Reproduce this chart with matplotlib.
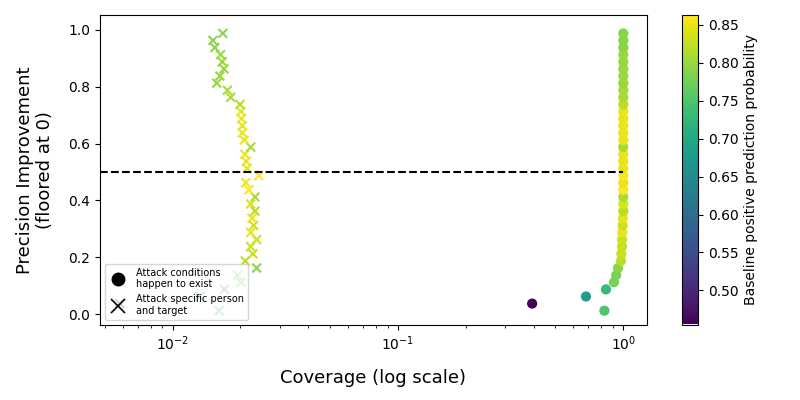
import matplotlib
matplotlib.use("Agg")
import matplotlib.pyplot as plt
from matplotlib.lines import Line2D

# precision improvement (floored at 0), bottom to top
improvement = [0.0125, 0.0375, 0.0625, 0.0875, 0.1125, 0.1375, 0.1625, 0.1875,
               0.2125, 0.2375, 0.2625, 0.2875, 0.3125, 0.3375, 0.3625, 0.3875,
               0.4125, 0.4375, 0.4625, 0.4875, 0.5125, 0.5375, 0.5625, 0.5875,
               0.6125, 0.6375, 0.6625, 0.6875, 0.7125, 0.7375, 0.7625, 0.7875,
               0.8125, 0.8375, 0.8625, 0.8875, 0.9125, 0.9375, 0.9625, 0.9875]

# baseline positive prediction probability (colour)
baseline = [0.75, 0.455, 0.68, 0.73, 0.78, 0.78, 0.79, 0.82,
            0.83, 0.83, 0.83, 0.85, 0.83, 0.85, 0.82, 0.84,
            0.81, 0.86, 0.85, 0.863, 0.85, 0.85, 0.85, 0.81,
            0.85, 0.85, 0.85, 0.85, 0.85, 0.82, 0.81, 0.81,
            0.80, 0.80, 0.80, 0.80, 0.80, 0.79, 0.79, 0.79]

# coverage when attack conditions happen to exist (circles)
coverage_exist = [0.824, 0.394, 0.683, 0.838, 0.909, 0.93, 0.947, 0.977,
                  0.98, 0.987, 0.987, 0.99, 0.993, 0.995, 1.0, 1.0,
                  1.0, 1.0, 1.0, 1.0, 1.0, 1.0, 1.0, 1.0,
                  1.0, 1.0, 1.0, 1.0, 1.0, 1.0, 1.0, 1.0,
                  1.0, 1.0, 1.0, 1.0, 1.0, 1.0, 1.0, 1.0]

# coverage when attacking a specific person and target (crosses)
coverage_specific = [0.0161, 0.00583, 0.0132, 0.0170, 0.0201, 0.0194, 0.0236, 0.0210,
                     0.0227, 0.0222, 0.0236, 0.0222, 0.0229, 0.0225, 0.0232, 0.0222,
                     0.0232, 0.0218, 0.0211, 0.0241, 0.0214, 0.0212, 0.0209, 0.0222,
                     0.0208, 0.0204, 0.0204, 0.0202, 0.0201, 0.0199, 0.0181, 0.0175,
                     0.0157, 0.0162, 0.0169, 0.0166, 0.0163, 0.0154, 0.0151, 0.0167]

fig = plt.figure(figsize=(8, 4), dpi=100)
ax = fig.add_axes([0.125, 0.18875, 0.68375, 0.773])
cax = fig.add_axes([0.853, 0.18875, 0.0195, 0.7735])

vmin, vmax = min(baseline), max(baseline)
sc = ax.scatter(coverage_exist, improvement, c=baseline, cmap="viridis",
                marker="o", s=40, vmin=vmin, vmax=vmax)
ax.scatter(coverage_specific, improvement, c=baseline, cmap="viridis",
           marker="x", s=40, vmin=vmin, vmax=vmax)

ax.set_xscale("log")
ax.set_xlim(0.00476, 1.274)
ax.set_ylim(-0.036, 1.051)
ax.hlines(0.5, 0.00476, 1.0, colors="black", linestyles="--", linewidth=1.5)

ax.set_xlabel("Coverage (log scale)", fontsize=13, labelpad=12)
ax.set_ylabel("Precision Improvement\n(floored at 0)", fontsize=13, labelpad=10)

handles = [
    Line2D([], [], color="black", marker="o", linestyle="None", markersize=9),
    Line2D([], [], color="black", marker="x", linestyle="None", markersize=10,
           markeredgewidth=1.2),
]
ax.legend(handles, ["Attack conditions\nhappen to exist",
                    "Attack specific person\nand target"],
          loc="lower left", fontsize=7, labelspacing=0.5)

cbar = fig.colorbar(sc, cax=cax)
cbar.set_label("Baseline positive prediction probability", fontsize=10)

plt.savefig("out.png")
